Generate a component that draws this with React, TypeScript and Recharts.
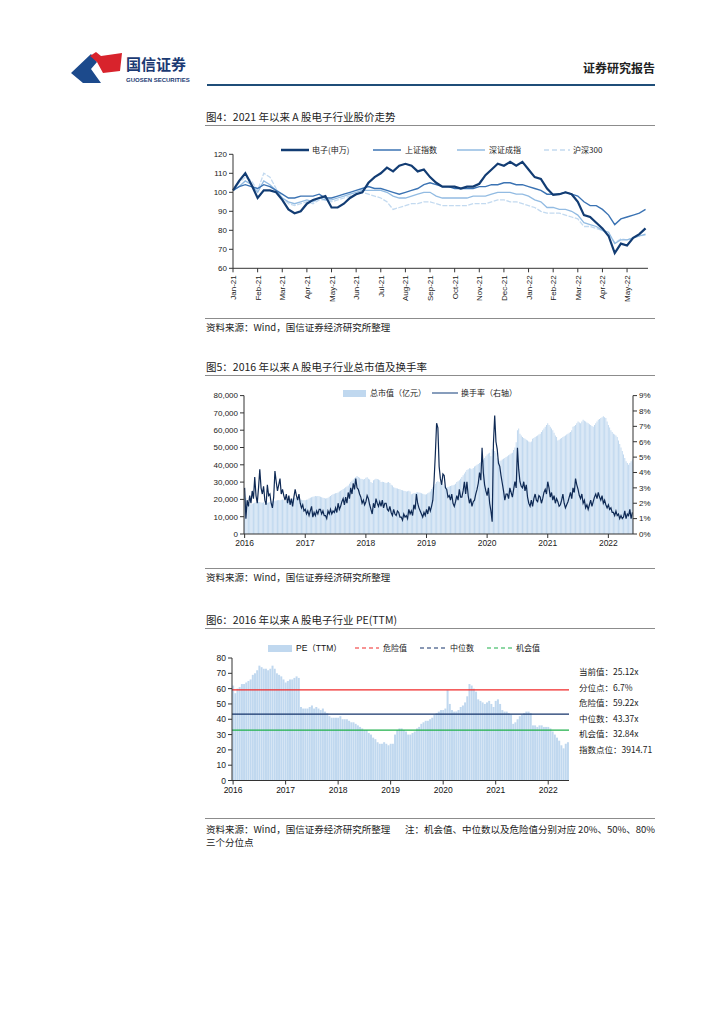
import React from "react";
import {
  LineChart, Line, XAxis, YAxis, ComposedChart, Bar, BarChart, ReferenceLine,
} from "recharts";

const FONT = '"Liberation Sans", "Noto Sans CJK SC", sans-serif';
const CJK = '"Noto Sans CJK SC", "Liberation Sans", sans-serif';
const W = 724;

// 图4: weekly index, 2021-01 .. 2022-05 (base 100)
const MONTHS = ["Jan-21", "Feb-21", "Mar-21", "Apr-21", "May-21", "Jun-21", "Jul-21", "Aug-21", "Sep-21",
  "Oct-21", "Nov-21", "Dec-21", "Jan-22", "Feb-22", "Mar-22", "Apr-22", "May-22"];
const ELEC = [101, 106, 110, 104, 97, 101, 101, 100, 96, 91, 89, 90, 94, 96, 97, 98, 92, 92, 94, 97,
  99, 100, 105, 108, 110, 113, 111, 114, 115, 114, 111, 112, 108, 105, 103, 103, 103, 102, 103, 103,
  104.5, 109, 112, 115, 114, 116, 114, 116, 112, 108, 107, 102, 98.6, 99, 100, 99, 95, 88, 87, 84,
  81, 77, 68, 73, 72, 76, 78, 81];
const SHCOMP = [101, 103, 104, 103, 102, 104, 103, 101, 99, 97, 97, 98, 98, 98, 99, 97, 97, 98, 99, 100,
  101, 102, 103, 102, 102, 101, 100, 99, 100, 101, 102, 104, 105, 104, 103, 103, 102, 102, 102, 102,
  103, 103, 104, 104, 105, 105, 104, 104, 103, 102, 101, 99, 99, 99, 100, 99, 98, 95, 93, 93,
  91, 88, 83, 86, 87, 88, 89, 91];
const SZCOMP = [101, 103, 106, 104, 100, 106, 104, 101, 97, 95, 94, 95, 96, 95, 97, 96, 96, 97, 98, 99,
  100, 101, 101, 101, 101, 100, 98, 97, 97, 98, 99, 100, 100, 98, 97, 97, 97, 97, 97, 98,
  98, 98, 99, 100, 100, 100, 99, 99, 98, 96, 95, 92, 92, 91, 91, 90, 88, 84, 83, 82,
  80, 79, 73, 75, 75, 76, 77, 78];
const HS300 = [101, 105, 108, 106, 101, 110, 108, 102, 97, 94, 93, 94, 95, 94, 96, 96, 95, 96, 97, 98,
  99, 100, 99, 98, 97, 95, 91, 92, 93, 94, 94, 95, 95, 94, 93, 93, 93, 93, 93, 94,
  94, 94, 95, 96, 96, 95, 95, 94, 93, 92, 90, 89, 89, 89, 88, 87, 86, 82, 82, 81,
  80, 78, 73.5, 75.5, 75, 76, 77, 77.5];

const YEARS = ["2016", "2017", "2018", "2019", "2020", "2021", "2022"];

// 图5: four points a month, 2016-01 .. 2022-05
const MKT_CAP = [
  23000, 21000, 18500, 18000, 17000, 17200, 17500, 17800, 18000, 18300, 18500, 18700, 18500, 18200, 18000, 18300,
  17500, 17800, 18000, 18200, 18500, 18800, 19000, 19200, 19000, 19300, 19500, 19700, 19500, 19800, 20000, 19800,
  19000, 19200, 19500, 19700, 20000, 20300, 20500, 20800, 21000, 20800, 21000, 20700, 20000, 19800, 19500, 19600,
  19500, 19800, 20000, 20500, 21000, 21200, 21500, 21700, 22000, 21800, 22000, 21800, 21500, 21300, 21000, 20800,
  20500, 20700, 21000, 21500, 22000, 22500, 23000, 23200, 23500, 23700, 24000, 24500, 25000, 25500, 26000, 26500,
  27000, 27500, 28000, 29000, 30000, 30800, 31500, 32200, 33000, 33500, 33000, 32500, 32000, 31800, 31500, 31800,
  32500, 32800, 32000, 31500, 30000, 29500, 31000, 31500, 32000, 31800, 31500, 31000, 30000, 30200, 30000, 29800,
  29500, 29800, 30000, 29500, 28500, 28000, 27000, 26800, 26500, 26300, 26000, 25800, 25500, 25300, 25000, 24800,
  24500, 24700, 25000, 24500, 23000, 23200, 23500, 23700, 24000, 24200, 24000, 23800, 23500, 23300, 23000, 22800,
  23000, 23500, 24000, 24500, 26000, 27000, 28000, 29000, 30000, 30500, 30000, 29800, 29500, 29000, 28000, 27500,
  27000, 27200, 27500, 27800, 28000, 28200, 28500, 29000, 30000, 30500, 31000, 32000, 33000, 34000, 35000, 36000,
  37000, 37500, 38000, 37800, 37500, 38200, 39000, 39500, 40000, 40500, 41000, 41500, 42000, 43000, 44000, 45000,
  46000, 46500, 47000, 45000, 49000, 49500, 48000, 47000, 44000, 43000, 42000, 42500, 43000, 43500, 44000, 44500,
  45000, 45500, 46000, 46500, 47000, 48500, 50000, 53000, 60000, 61000, 58000, 57000, 56000, 55500, 55000, 54500,
  54000, 53500, 53000, 53500, 55000, 55500, 56000, 56500, 57000, 57500, 58000, 59000, 60000, 61000, 62000, 63000,
  64000, 63000, 62000, 61000, 60000, 58500, 57000, 56000, 54000, 54500, 55000, 55500, 56000, 56500, 57000, 57500,
  58000, 58500, 59000, 60000, 62000, 62500, 63000, 64000, 65000, 64500, 64000, 65000, 66000, 65500, 65000, 64500,
  64000, 63500, 63000, 62500, 62000, 63000, 64000, 65000, 66000, 66500, 67000, 67500, 68000, 67500, 67000, 65000,
  63000, 61500, 60000, 59000, 58000, 57500, 57000, 56000, 54000, 52000, 50000, 48000, 46000, 44000, 42000, 41000,
  40000, 41000, 42000, 43000,
];
const TURNOVER = [
  3.0, 1.0, 2.2, 1.8, 2.5, 2.0, 2.8, 2.3, 3.7, 2.5, 2.0, 3.0, 4.2, 3.0, 2.6, 3.1,
  2.2, 1.9, 3.2, 2.5, 2.6, 2.0, 1.7, 2.4, 4.1, 3.4, 2.8, 3.2, 3.6, 2.6, 2.9, 2.5,
  2.2, 2.6, 2.0, 2.5, 1.9, 2.3, 1.8, 2.4, 2.9, 2.5, 2.2, 2.6, 2.0, 1.7, 1.9, 1.5,
  1.6, 1.3, 1.5, 1.2, 1.5, 1.8, 1.1, 1.4, 1.2, 1.5, 1.3, 1.6, 1.6, 1.3, 1.5, 1.2,
  1.2, 1.0, 1.5, 1.3, 1.6, 1.3, 1.5, 1.4, 1.7, 1.4, 2.0, 1.6, 1.8, 2.1, 2.3, 1.9,
  2.4, 2.0, 2.7, 2.3, 3.0, 2.6, 3.3, 2.9, 3.6, 3.0, 2.9, 2.6, 2.4, 2.0, 2.2, 1.9,
  2.1, 2.5, 2.3, 1.9, 1.6, 1.3, 2.0, 1.7, 2.3, 2.0, 1.8, 2.1, 1.8, 2.2, 1.7, 2.0,
  2.0, 1.6, 1.5, 1.8, 1.4, 1.2, 1.6, 1.3, 1.2, 1.5, 1.4, 1.1, 1.1, 0.9, 1.3, 1.1,
  1.2, 1.0, 1.6, 1.3, 1.5, 1.2, 1.9, 1.6, 2.6, 2.0, 1.7, 1.5, 1.3, 1.1, 1.4, 1.2,
  1.6, 1.3, 1.8, 1.5, 1.8, 2.2, 3.5, 5.2, 7.2, 6.9, 4.4, 3.6, 3.2, 3.9, 3.8, 3.0,
  2.9, 2.4, 2.5, 2.2, 2.6, 2.0, 1.8, 2.1, 2.5, 2.2, 2.9, 2.4, 2.4, 2.8, 3.4, 2.6,
  3.4, 2.5, 2.0, 2.3, 1.8, 2.1, 2.2, 2.6, 2.9, 3.3, 4.0, 3.5, 5.6, 4.0, 3.2, 2.8,
  2.5, 3.0, 2.0, 1.5, 0.8, 5.9, 7.7, 6.0, 5.5, 4.6, 4.4, 3.8, 3.3, 2.8, 2.2, 2.6,
  2.6, 2.3, 3.0, 2.7, 2.4, 2.9, 3.4, 3.0, 5.6, 4.2, 3.4, 3.1, 3.0, 3.4, 2.8, 3.2,
  2.4, 2.0, 1.8, 2.2, 1.8, 2.3, 2.6, 2.2, 2.1, 2.5, 2.4, 2.0, 2.3, 2.7, 2.9, 2.6,
  3.4, 3.0, 2.4, 2.7, 2.2, 2.5, 2.0, 2.3, 2.1, 1.8, 1.9, 2.2, 2.6, 2.0, 1.7, 1.9,
  2.1, 2.4, 2.7, 2.3, 3.0, 2.7, 3.6, 3.2, 2.9, 2.5, 2.3, 2.6, 2.0, 2.2, 1.7, 1.9,
  1.6, 1.9, 2.2, 1.8, 2.1, 2.4, 2.6, 2.3, 2.7, 2.4, 2.2, 2.5, 2.0, 2.2, 1.9, 1.7,
  1.9, 1.6, 1.7, 1.4, 1.4, 1.2, 1.5, 1.2, 1.3, 1.0, 1.2, 1.0, 1.1, 1.5, 1.0, 1.3,
  1.2, 1.6, 1.0, 1.4,
];

// 图6: half-monthly PE(TTM), 2016-01 .. 2022-05
const PE_TTM = [
  62, 57, 60, 61, 63, 63, 64, 65, 66, 69, 70, 72, 75, 74, 73, 73, 72, 73, 75, 73, 70, 69, 68, 66,
  64, 65, 66, 66, 67, 68, 67, 48, 47, 47, 47, 48, 49, 47, 48, 47, 46, 47, 45, 44, 42, 41, 41, 41,
  41, 42, 40, 40, 40, 39, 38, 38, 37, 36, 35, 34, 33, 33, 31, 30, 28, 27, 25, 24, 24, 25, 24, 23,
  24, 24, 30, 33, 34, 34, 33, 32, 30, 30, 31, 32, 34, 35, 37, 38, 39, 39, 40, 41, 43, 44, 45, 46,
  46, 47, 59, 50, 46, 45, 45, 46, 48, 49, 51, 55, 63, 62, 60, 58, 53, 52, 51, 50, 51, 52, 50, 48,
  52, 53, 50, 46, 45, 45, 44, 43, 37, 38, 40, 42, 43, 44, 45, 45, 44, 36, 36, 35, 36, 36, 35, 35,
  35, 34, 32, 30, 28, 26, 23, 21, 24, 25,
];
const PE_DANGER = 59.22;
const PE_MEDIAN = 43.37;
const PE_CHANCE = 32.84;
const PE_NOTES = ["当前值：25.12x", "分位点：6.7%", "危险值：59.22x", "中位数：43.37x", "机会值：32.84x", "指数点位：3914.71"];

const C_DARK = "#123c73";
const C_MED = "#3b73b3";
const C_LIGHT = "#92bbe2";
const C_PALE = "#c3daf0";
const C_BAR = "#c0d8ef";
const C_TURN = "#0f2a55";

const weekly = ELEC.map((v, i) => ({ t: i / 4, elec: v, sh: SHCOMP[i], sz: SZCOMP[i], hs: HS300[i] }));
const capRows = MKT_CAP.map((v, i) => ({ d: `${YEARS[Math.floor(i / 48)]}-${i % 48}`, cap: v, turn: TURNOVER[i] }));
const peRows = PE_TTM.map((v, i) => ({ d: `${YEARS[Math.floor(i / 24)]}-${i % 24}`, pe: v }));
const yearTicks = YEARS.map((y) => `${y}-0`);

const Txt = ({ x, y, size = 9.5, color = "#222", weight = 400, right, family, children }: any) => (
  <div
    style={{
      position: "absolute",
      left: right === undefined ? x : undefined,
      right: right !== undefined ? W - right : undefined,
      top: y - size * 0.6,
      fontSize: size,
      lineHeight: `${size * 1.2}px`,
      color,
      fontWeight: weight,
      whiteSpace: "nowrap",
      fontFamily: family || CJK,
    }}
  >
    {children}
  </div>
);

const Rule = ({ y, x = 205, w = 450, h = 1, color = "#8c8c8c" }: any) => (
  <div style={{ position: "absolute", left: x, top: y, width: w, height: h, background: color }} />
);

const LineSwatch = ({ x, y, w, color, sw = 1.5, dash }: any) => (
  <svg style={{ position: "absolute", left: x, top: y - 3 }} width={w} height={6}>
    <line x1={0} x2={w} y1={3} y2={3} stroke={color} strokeWidth={sw} strokeDasharray={dash} />
  </svg>
);

const BoxSwatch = ({ x, y, w, color }: any) => (
  <div style={{ position: "absolute", left: x, top: y - 3.5, width: w, height: 7, background: color }} />
);

const tickStyle = { fontSize: 8, fill: "#222", fontFamily: FONT };
const axisStroke = "#333";

const MonthTick = ({ x, y, payload }: any) => (
  <text x={x} y={y} transform={`rotate(-90 ${x} ${y})`} textAnchor="end" dy={3} fontSize={8} fill="#222" fontFamily={FONT}>
    {MONTHS[payload.value]}
  </text>
);

const Logo = () => (
  <svg style={{ position: "absolute", left: 70, top: 51 }} width={56} height={34}>
    <path d="M1,22 L21,3 L27,11 L21,18 L31,32 L13,32 Z" fill="#1c4a8c" />
    <path d="M20,5 L26,1 L31,5 L52,2 L50,20 L33,22 L27,11 Z" fill="#d8232c" />
  </svg>
);

export default function App() {
  return (
    <div style={{ position: "absolute", left: 0, top: 0, width: W, height: 1024, background: "#fff", fontFamily: CJK }}>
      {/* header */}
      <Logo />
      <Txt x={126} y={64} size={15} weight={700} color="#1b3a73">国信证券</Txt>
      <Txt x={126} y={81} size={6} weight={700} color="#1b3a73" family={FONT}>GUOSEN SECURITIES</Txt>
      <Txt right={655} y={68} size={12} weight={700} color="#222">证券研究报告</Txt>
      <Rule y={84} x={207} w={448} h={2} color="#1f4e79" />

      {/* 图4 */}
      <Txt x={206} y={117} size={10.5}>图4：2021 年以来 A 股电子行业股价走势</Txt>
      <Rule y={125} />
      <div style={{ position: "absolute", left: 200, top: 140 }}>
        <LineChart width={460} height={168.3} data={weekly} margin={{ top: 14.3, right: 12, left: 0, bottom: 0 }}>
          <XAxis
            dataKey="t"
            type="number"
            domain={[0, 16.85]}
            ticks={MONTHS.map((_, i) => i)}
            interval={0}
            height={40}
            tick={<MonthTick />}
            tickSize={4}
            tickMargin={3}
            axisLine={{ stroke: axisStroke }}
            tickLine={{ stroke: axisStroke }}
          />
          <YAxis
            domain={[60, 120]}
            ticks={[60, 70, 80, 90, 100, 110, 120]}
            width={33}
            tick={tickStyle}
            tickSize={4}
            tickMargin={2}
            axisLine={{ stroke: axisStroke }}
            tickLine={{ stroke: axisStroke }}
          />
          <Line dataKey="hs" stroke={C_PALE} strokeWidth={1.3} strokeDasharray="5 1.5" dot={false} isAnimationActive={false} />
          <Line dataKey="sz" stroke={C_LIGHT} strokeWidth={1.3} dot={false} isAnimationActive={false} />
          <Line dataKey="sh" stroke={C_MED} strokeWidth={1.4} dot={false} isAnimationActive={false} />
          <Line dataKey="elec" stroke={C_DARK} strokeWidth={2.2} dot={false} isAnimationActive={false} />
        </LineChart>
      </div>
      <LineSwatch x={281} y={150} w={28} color={C_DARK} sw={2.5} />
      <Txt x={312} y={150} size={8}>电子(申万)</Txt>
      <LineSwatch x={373} y={150} w={28} color={C_MED} sw={1.5} />
      <Txt x={405} y={150} size={8}>上证指数</Txt>
      <LineSwatch x={457} y={150} w={28} color={C_LIGHT} sw={1.5} />
      <Txt x={489} y={150} size={8}>深证成指</Txt>
      <LineSwatch x={544} y={150} w={26} color={C_PALE} sw={1.5} dash="5 3" />
      <Txt x={573} y={150} size={8}>沪深300</Txt>
      <Rule y={318} />
      <Txt x={206} y={328} size={9.5}>资料来源：Wind，国信证券经济研究所整理</Txt>

      {/* 图5 */}
      <Txt x={206} y={367} size={10.5}>图5：2016 年以来 A 股电子行业总市值及换手率</Txt>
      <Rule y={375} />
      <div style={{ position: "absolute", left: 204, top: 380 }}>
        <ComposedChart width={454} height={174} data={capRows} margin={{ top: 15.6, right: 0, left: 0, bottom: 0 }} barCategoryGap="12%">
          <XAxis
            dataKey="d"
            ticks={yearTicks}
            interval={0}
            height={20}
            tickFormatter={(s: string) => s.slice(0, 4)}
            tick={{ ...tickStyle, fontSize: 8.5 }}
            tickSize={4}
            tickMargin={2}
            axisLine={{ stroke: axisStroke }}
            tickLine={{ stroke: axisStroke }}
          />
          <YAxis
            yAxisId="l"
            domain={[0, 80000]}
            ticks={[0, 10000, 20000, 30000, 40000, 50000, 60000, 70000, 80000]}
            tickFormatter={(v: number) => v.toLocaleString("en-US")}
            width={40}
            tick={tickStyle}
            tickSize={4}
            tickMargin={2}
            axisLine={{ stroke: axisStroke }}
            tickLine={{ stroke: axisStroke }}
          />
          <YAxis
            yAxisId="r"
            orientation="right"
            domain={[0, 9]}
            ticks={[0, 1, 2, 3, 4, 5, 6, 7, 8, 9]}
            tickFormatter={(v: number) => `${v}%`}
            width={25}
            tick={tickStyle}
            tickSize={4}
            tickMargin={2}
            axisLine={{ stroke: axisStroke }}
            tickLine={{ stroke: axisStroke }}
          />
          <Bar yAxisId="l" dataKey="cap" fill={C_BAR} isAnimationActive={false} />
          <Line yAxisId="r" dataKey="turn" stroke={C_TURN} strokeWidth={1.2} dot={false} isAnimationActive={false} />
        </ComposedChart>
      </div>
      <BoxSwatch x={343} y={393} w={23} color={C_BAR} />
      <Txt x={370} y={393} size={8}>总市值（亿元）</Txt>
      <LineSwatch x={432} y={393} w={26} color="#5f7ca6" sw={1.5} />
      <Txt x={461} y={393} size={8}>换手率（右轴）</Txt>
      <Rule y={568} />
      <Txt x={206} y={578} size={9.5}>资料来源：Wind，国信证券经济研究所整理</Txt>

      {/* 图6 */}
      <Txt x={206} y={620} size={10.5}>图6：2016 年以来 A 股电子行业 PE(TTM)</Txt>
      <Rule y={628} />
      <div style={{ position: "absolute", left: 200, top: 645 }}>
        <BarChart width={372} height={155.5} data={peRows} margin={{ top: 13, right: 3, left: 0, bottom: 0 }} barCategoryGap="6%">
          <XAxis
            dataKey="d"
            ticks={yearTicks}
            interval={0}
            height={20}
            tickFormatter={(s: string) => s.slice(0, 4)}
            tick={{ ...tickStyle, fontSize: 8.5, fill: "#111" }}
            tickSize={4}
            tickMargin={2}
            axisLine={{ stroke: axisStroke }}
            tickLine={{ stroke: axisStroke }}
          />
          <YAxis
            domain={[0, 80]}
            ticks={[0, 10, 20, 30, 40, 50, 60, 70, 80]}
            width={32}
            tick={{ ...tickStyle, fontSize: 8.5 }}
            tickSize={4}
            tickMargin={2}
            axisLine={{ stroke: axisStroke }}
            tickLine={{ stroke: axisStroke }}
          />
          <Bar dataKey="pe" fill={C_BAR} isAnimationActive={false} />
          <ReferenceLine y={PE_DANGER} stroke="#f02828" strokeWidth={1.3} />
          <ReferenceLine y={PE_MEDIAN} stroke="#14336a" strokeWidth={1.3} />
          <ReferenceLine y={PE_CHANCE} stroke="#1fb04a" strokeWidth={1.3} />
        </BarChart>
      </div>
      <BoxSwatch x={268} y={648} w={24} color={C_BAR} />
      <Txt x={296} y={648} size={8.5} color="#111" family={FONT}>PE（TTM）</Txt>
      <LineSwatch x={355} y={648} w={24} color="#f02828" sw={1.2} dash="4 3" />
      <Txt x={383} y={648} size={8}>危险值</Txt>
      <LineSwatch x={420} y={648} w={25} color="#14336a" sw={1.2} dash="4 3" />
      <Txt x={450} y={648} size={8}>中位数</Txt>
      <LineSwatch x={487} y={648} w={25} color="#1fb04a" sw={1.2} dash="4 3" />
      <Txt x={516} y={648} size={8}>机会值</Txt>
      {PE_NOTES.map((s, i) => (
        <Txt key={s} x={579} y={[671, 687, 702, 718, 733, 749][i]} size={8.5}>{s}</Txt>
      ))}
      <Rule y={818} />
      <Txt x={206} y={830} size={9.5}>资料来源：Wind，国信证券经济研究所整理</Txt>
      <Txt right={655} y={830} size={9.5}>注：机会值、中位数以及危险值分别对应 20%、50%、80%</Txt>
      <Txt x={206} y={843} size={9.5}>三个分位点</Txt>
    </div>
  );
}
